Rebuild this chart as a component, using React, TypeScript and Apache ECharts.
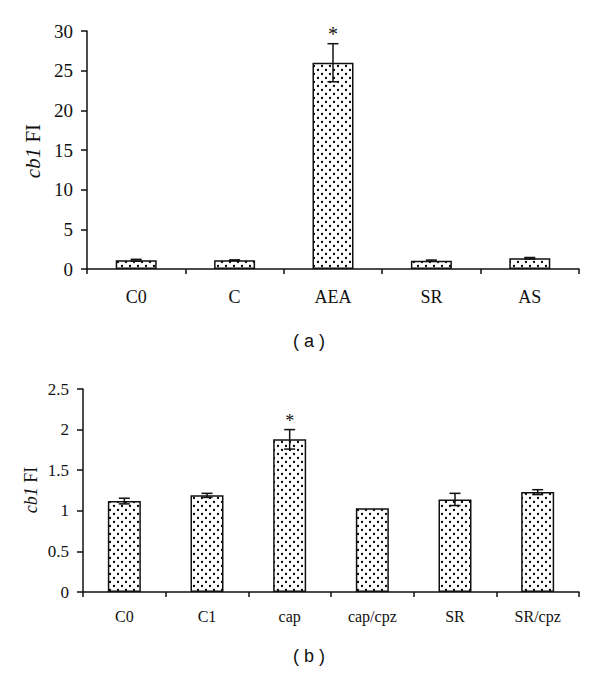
import React, { useEffect, useRef } from "react";
import * as echarts from "echarts";

const catsA = ["C0", "C", "AEA", "SR", "AS"];
const meansA = [1.1, 1.1, 26.0, 1.05, 1.35];
const errsA = [0.12, 0.05, 2.4, 0.08, 0.1];
const sigA = [false, false, true, false, false];
const ticksA = { min: 0, max: 30, interval: 5 };

const catsB = ["C0", "C1", "cap", "cap/cpz", "SR", "SR/cpz"];
const meansB = [1.12, 1.19, 1.88, 1.03, 1.14, 1.23];
const errsB = [0.035, 0.025, 0.12, 0, 0.075, 0.03];
const sigB = [false, false, true, false, false, false];
const ticksB = { min: 0, max: 2.5, interval: 0.5 };

const SERIF = "Liberation Serif";

function makePattern() {
  const c = document.createElement("canvas");
  c.width = 8;
  c.height = 8;
  const ctx = c.getContext("2d")!;
  ctx.fillStyle = "#fff";
  ctx.fillRect(0, 0, 8, 8);
  ctx.fillStyle = "#000";
  for (const [x, y] of [[2, 2], [6, 6]]) {
    ctx.beginPath();
    ctx.arc(x, y, 1.15, 0, Math.PI * 2);
    ctx.fill();
  }
  return c;
}

function errRender(capHalf: number, starGap: number, starSize: number) {
  return (params: any, api: any) => {
    const i = api.value(0);
    const m = api.value(1);
    const e = api.value(2);
    const s = api.value(3);
    const top = api.coord([i, m + e]);
    const bot = api.coord([i, m - e]);
    const children: any[] = [];
    if (e > 0) {
      const st = { stroke: "#111", lineWidth: 1.5 };
      children.push(
        { type: "line", shape: { x1: top[0], y1: top[1], x2: bot[0], y2: bot[1] }, style: st },
        { type: "line", shape: { x1: top[0] - capHalf, y1: top[1], x2: top[0] + capHalf, y2: top[1] }, style: st },
        { type: "line", shape: { x1: bot[0] - capHalf, y1: bot[1], x2: bot[0] + capHalf, y2: bot[1] }, style: st }
      );
    }
    if (s) {
      children.push({
        type: "text",
        x: top[0],
        y: top[1] - starGap,
        style: {
          text: "*",
          font: `${starSize}px ${SERIF}`,
          fill: "#111",
          align: "center",
          verticalAlign: "middle",
        },
      });
    }
    return { type: "group", children };
  };
}

export default function App() {
  const ref = useRef<HTMLDivElement>(null);
  useEffect(() => {
    if (!ref.current) return;
    const chart = echarts.init(ref.current, null, { renderer: "svg" });
    const pattern = { image: makePattern(), repeat: "repeat" };

    const axisLineStyle = { lineStyle: { color: "#111", width: 1.5 } };
    const mkX = (cats: string[], gridIndex: number, size: number, margin: number) => ({
      type: "category",
      data: cats,
      gridIndex,
      boundaryGap: true,
      axisLine: axisLineStyle,
      axisTick: { show: true, alignWithLabel: false, length: 5, lineStyle: { color: "#111", width: 1.5 } },
      axisLabel: { color: "#111", fontFamily: SERIF, fontSize: size, margin },
      splitLine: { show: false },
    });
    const mkY = (t: any, gridIndex: number, size: number) => ({
      type: "value",
      gridIndex,
      min: t.min,
      max: t.max,
      interval: t.interval,
      axisLine: { show: true, ...axisLineStyle },
      axisTick: { show: true, length: 6, lineStyle: { color: "#111", width: 1.5 } },
      axisLabel: { color: "#111", fontFamily: SERIF, fontSize: size, margin: 14 },
      splitLine: { show: false },
    });

    chart.setOption({
      animation: false,
      backgroundColor: "#fff",
      grid: [
        { left: 87, right: 21, top: 31, height: 238 },
        { left: 83, right: 21, top: 389, height: 203 },
      ],
      xAxis: [mkX(catsA, 0, 18, 19), mkX(catsB, 1, 16, 16)],
      yAxis: [mkY(ticksA, 0, 19), mkY(ticksB, 1, 17)],
      series: [
        {
          type: "bar",
          xAxisIndex: 0,
          yAxisIndex: 0,
          data: meansA,
          barWidth: 41,
          itemStyle: { color: pattern, borderColor: "#111", borderWidth: 1.5 },
        },
        {
          type: "custom",
          xAxisIndex: 0,
          yAxisIndex: 0,
          data: meansA.map((m, i) => [i, m, errsA[i], sigA[i] ? 1 : 0]),
          encode: { x: 0, y: 1 },
          renderItem: errRender(5.5, 10, 20),
          z: 5,
        },
        {
          type: "bar",
          xAxisIndex: 1,
          yAxisIndex: 1,
          data: meansB,
          barWidth: 33,
          itemStyle: { color: pattern, borderColor: "#111", borderWidth: 1.5 },
        },
        {
          type: "custom",
          xAxisIndex: 1,
          yAxisIndex: 1,
          data: meansB.map((m, i) => [i, m, errsB[i], sigB[i] ? 1 : 0]),
          encode: { x: 0, y: 1 },
          renderItem: errRender(5.5, 9, 18),
          z: 5,
        },
      ],
      graphic: [
        {
          type: "text",
          x: 33,
          y: 151,
          rotation: Math.PI / 2,
          style: {
            text: "{i|cb1} FI",
            font: `21px ${SERIF}`,
            fill: "#111",
            align: "center",
            verticalAlign: "middle",
            rich: { i: { fontStyle: "italic", fontFamily: SERIF, fontSize: 21, fill: "#111" } },
          },
        },
        {
          type: "text",
          x: 31,
          y: 490,
          rotation: Math.PI / 2,
          style: {
            text: "{i|cb1} FI",
            font: `18px ${SERIF}`,
            fill: "#111",
            align: "center",
            verticalAlign: "middle",
            rich: { i: { fontStyle: "italic", fontFamily: SERIF, fontSize: 18, fill: "#111" } },
          },
        },
        {
          type: "text",
          x: 309,
          y: 341,
          style: {
            text: "( a )",
            font: "18px Liberation Sans",
            fill: "#111",
            align: "center",
            verticalAlign: "middle",
          },
        },
        {
          type: "text",
          x: 309,
          y: 656,
          style: {
            text: "( b )",
            font: "18px Liberation Sans",
            fill: "#111",
            align: "center",
            verticalAlign: "middle",
          },
        },
      ],
    });
    return () => chart.dispose();
  }, []);
  return (
    <div
      ref={ref}
      style={{ position: "fixed", left: 0, top: 0, width: 600, height: 679, background: "#fff" }}
    />
  );
}
